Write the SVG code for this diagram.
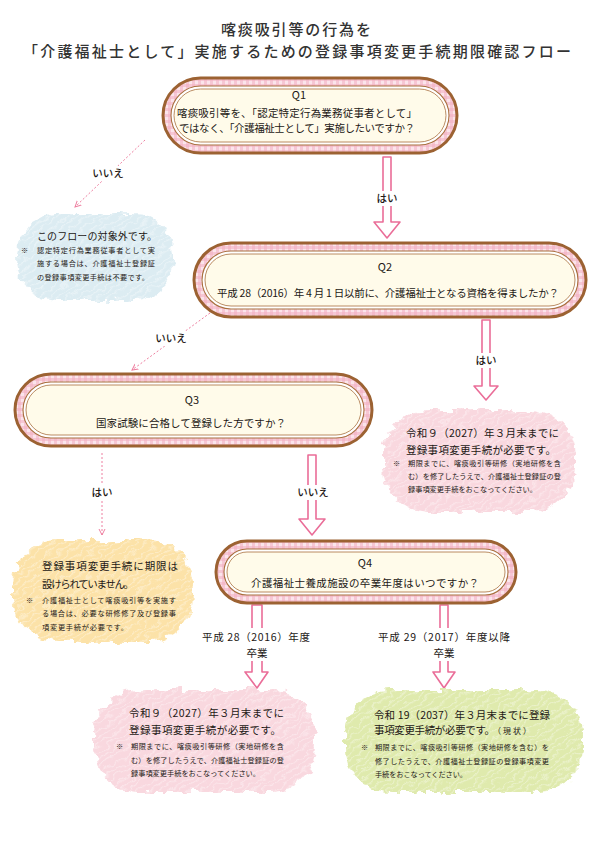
<svg xmlns="http://www.w3.org/2000/svg" width="595" height="842" viewBox="0 0 595 842">
<style>
.t{font-family:"Noto Sans CJK JP","Noto Sans",sans-serif;fill:#231815}
.ttl{font-size:15px;fill:#333;text-anchor:middle;font-weight:500}
.q{font-size:11px;text-anchor:middle}
.b{font-size:10.5px}
.m{text-anchor:middle}
.n{font-size:7.2px}
.lab{font-size:10.5px;text-anchor:middle;font-weight:500}
.lab2{font-size:10.5px;text-anchor:middle}
.fo{fill:url(#ging);stroke:#9c6232;stroke-width:3}
.fm{fill:#fff;stroke:#a8703e;stroke-width:1.1}
.fi{fill:#fffbea;stroke:#a8703e;stroke-width:0.8}
.ha{fill:#fff;stroke:#ea6d98;stroke-width:1.6;stroke-linejoin:round}
.da{fill:none;stroke:#ee7fa0;stroke-width:1;stroke-dasharray:2 2;marker-end:url(#v)}
.wb{fill:#fff}
</style>
<defs>
<pattern id="ging" width="6" height="6" patternUnits="userSpaceOnUse">
<rect width="6" height="6" fill="#fbe4eb"/>
<rect width="3" height="6" fill="#f2aec0" opacity="0.55"/>
<rect width="6" height="3" fill="#f2aec0" opacity="0.55"/>
</pattern>
<pattern id="hatch" width="6" height="6" patternUnits="userSpaceOnUse" patternTransform="rotate(-35)">
<rect width="6" height="1.4" fill="#fff" opacity="0.35"/>
</pattern>
<filter id="rough" x="-15%" y="-15%" width="130%" height="130%">
<feTurbulence type="fractalNoise" baseFrequency="0.09 0.13" numOctaves="2" seed="3" result="n"/>
<feDisplacementMap in="SourceGraphic" in2="n" scale="12" xChannelSelector="R" yChannelSelector="G"/>
</filter>
<marker id="v" markerUnits="userSpaceOnUse" markerWidth="8" markerHeight="8" refX="6" refY="3.5" orient="auto">
<path d="M0,0.5 L6,3.5 L0,6.5" fill="none" stroke="#ee7fa0" stroke-width="1"/>
</marker>
</defs>

<g id="title">
<text class="t ttl" x="296" y="35" textLength="150">喀痰吸引等の行為を</text>
<text class="t ttl" x="297" y="57" textLength="548">「介護福祉士として」実施するための登録事項変更手続期限確認フロー</text>
</g>

<g id="connectors">
<path class="da" d="M145,140 L75,207"/>
<path class="da" d="M210,313 L132,370"/>
<path class="da" d="M102,453 L102,535"/>
<path class="ha" d="M383,157 L391,157 L391,222 L400,222 L387,238 L374,222 L383,222 Z"/>
<path class="ha" d="M482,320 L490,320 L490,386 L498,386 L486,400 L474,386 L482,386 Z"/>
<path class="ha" d="M308,455 L316,455 L316,519 L325,519 L312,535 L299,519 L308,519 Z"/>
<path class="ha" d="M252,605 L262,605 L262,672 L268,672 L257,688 L245,672 L252,672 Z"/>
<path class="ha" d="M440,605 L448,605 L448,672 L455,672 L444,688 L433,672 L440,672 Z"/>
<rect class="wb" x="91" y="166" width="34" height="15"/>
<text class="t lab" x="108" y="177">いいえ</text>
<rect class="wb" x="373" y="191" width="28" height="15"/>
<text class="t lab" x="387" y="202">はい</text>
<rect class="wb" x="472" y="353" width="28" height="15"/>
<text class="t lab" x="486" y="364">はい</text>
<rect class="wb" x="154" y="331" width="34" height="15"/>
<text class="t lab" x="171" y="342">いいえ</text>
<rect class="wb" x="90" y="485" width="24" height="15"/>
<text class="t lab" x="102" y="496">はい</text>
<rect class="wb" x="296" y="485" width="34" height="15"/>
<text class="t lab" x="313" y="496">いいえ</text>
<rect class="wb" x="200" y="628" width="112" height="33"/>
<text class="t lab2" x="256" y="641" textLength="108">平成 28（2016）年度</text>
<text class="t lab2" x="257" y="657">卒業</text>
<rect class="wb" x="376" y="628" width="136" height="33"/>
<text class="t lab2" x="444" y="641" textLength="132">平成 29（2017）年度以降</text>
<text class="t lab2" x="444" y="657">卒業</text>
</g>

<g id="q1">
<rect class="fo" x="163" y="78" width="294" height="75" rx="37.5"/>
<rect class="fm" x="171" y="86" width="278" height="59" rx="29.5"/>
<rect class="fi" x="174" y="89" width="272" height="53" rx="26.5"/>
<text class="t q" x="299" y="99">Q1</text>
<text class="t b m" x="297" y="117" textLength="240">喀痰吸引等を、「認定特定行為業務従事者として」</text>
<text class="t b m" x="297" y="132" textLength="236">ではなく、「介護福祉士として」実施したいですか？</text>
</g>

<g id="q2">
<rect class="fo" x="194" y="243" width="392" height="74" rx="37"/>
<rect class="fm" x="202" y="251" width="376" height="58" rx="29"/>
<rect class="fi" x="205" y="254" width="370" height="52" rx="26"/>
<text class="t q" x="385" y="271">Q2</text>
<text class="t b m" x="388" y="297" textLength="342">平成 28（2016）年 4 月 1 日以前に、介護福祉士となる資格を得ましたか？</text>
</g>

<g id="q3">
<rect class="fo" x="15" y="374" width="357" height="72" rx="36"/>
<rect class="fm" x="23" y="382" width="341" height="56" rx="28"/>
<rect class="fi" x="26" y="385" width="335" height="50" rx="25"/>
<text class="t q" x="192" y="404">Q3</text>
<text class="t b m" x="191" y="427" textLength="190">国家試験に合格して登録した方ですか？</text>
</g>

<g id="q4">
<rect class="fo" x="216" y="541" width="300" height="62" rx="31"/>
<rect class="fm" x="224" y="549" width="284" height="46" rx="23"/>
<rect class="fi" x="227" y="552" width="278" height="40" rx="20"/>
<text class="t q" x="365" y="567">Q4</text>
<text class="t b m" x="365" y="587" textLength="228">介護福祉士養成施設の卒業年度はいつですか？</text>
</g>

<g id="out-of-scope">
<g filter="url(#rough)">
<rect x="16" y="214" width="158" height="86" rx="40" fill="#dcecf2"/>
<rect x="16" y="214" width="158" height="86" rx="40" fill="url(#hatch)"/>
</g>
<text class="t" x="37" y="240" font-size="10" textLength="120">このフローの対象外です。</text>
<text class="t n" x="21" y="253">※</text>
<text class="t n" x="37" y="253" textLength="118">認定特定行為業務従事者として実</text>
<text class="t n" x="37" y="266" textLength="118">施する場合は、介護福祉士登録証</text>
<text class="t n" x="37" y="280" textLength="112">の登録事項変更手続は不要です。</text>
</g>

<g id="r2027a">
<g filter="url(#rough)">
<rect x="383" y="410" width="192" height="102" rx="45" fill="#f9d8df"/>
<rect x="383" y="410" width="192" height="102" rx="45" fill="url(#hatch)"/>
</g>
<text class="t b" x="406" y="437" textLength="153">令和９（2027）年３月末までに</text>
<text class="t b" x="406" y="454" textLength="150">登録事項変更手続が必要です。</text>
<text class="t n" x="393" y="466">※</text>
<text class="t n" x="408" y="466" textLength="153">期限までに、喀痰吸引等研修（実地研修を含</text>
<text class="t n" x="408" y="479" textLength="153">む）を修了したうえで、介護福祉士登録証の登</text>
<text class="t n" x="408" y="492" textLength="129">録事項変更手続をおこなってください。</text>
</g>

<g id="no-limit">
<g filter="url(#rough)">
<rect x="13" y="540" width="180" height="102" rx="45" fill="#fce2a8"/>
<rect x="13" y="540" width="180" height="102" rx="45" fill="url(#hatch)"/>
</g>
<text class="t b" x="42" y="570" textLength="136">登録事項変更手続に期限は</text>
<text class="t b" x="42" y="588" textLength="92">設けられていません。</text>
<text class="t n" x="26" y="603">※</text>
<text class="t n" x="42" y="603" textLength="134">介護福祉士として喀痰吸引等を実施す</text>
<text class="t n" x="42" y="616" textLength="134">る場合は、必要な研修修了及び登録事</text>
<text class="t n" x="42" y="630" textLength="86">項変更手続が必要です。</text>
</g>

<g id="r2027b">
<g filter="url(#rough)">
<rect x="94" y="690" width="222" height="102" rx="45" fill="#f9d8df"/>
<rect x="94" y="690" width="222" height="102" rx="45" fill="url(#hatch)"/>
</g>
<text class="t b" x="129" y="717" textLength="155">令和９（2027）年３月末までに</text>
<text class="t b" x="129" y="734" textLength="152">登録事項変更手続が必要です。</text>
<text class="t n" x="116" y="749">※</text>
<text class="t n" x="131" y="749" textLength="153">期限までに、喀痰吸引等研修（実地研修を含</text>
<text class="t n" x="131" y="763" textLength="153">む）を修了したうえで、介護福祉士登録証の登</text>
<text class="t n" x="131" y="776" textLength="129">録事項変更手続をおこなってください。</text>
</g>

<g id="r2037">
<g filter="url(#rough)">
<rect x="345" y="690" width="238" height="102" rx="45" fill="#dfeaad"/>
<rect x="345" y="690" width="238" height="102" rx="45" fill="url(#hatch)"/>
</g>
<text class="t b" x="374" y="719" textLength="176">令和 19（2037）年３月末までに登録</text>
<text class="t b" x="374" y="734" textLength="121">事項変更手続が必要です。</text>
<text class="t" x="493" y="734" font-size="8" textLength="38">（現状）</text>
<text class="t n" x="361" y="750">※</text>
<text class="t n" x="375" y="750" textLength="174">期限までに、喀痰吸引等研修（実地研修を含む）を</text>
<text class="t n" x="375" y="764" textLength="174">修了したうえで、介護福祉士登録証の登録事項変更</text>
<text class="t n" x="375" y="777" textLength="92">手続をおこなってください。</text>
</g>
</svg>
